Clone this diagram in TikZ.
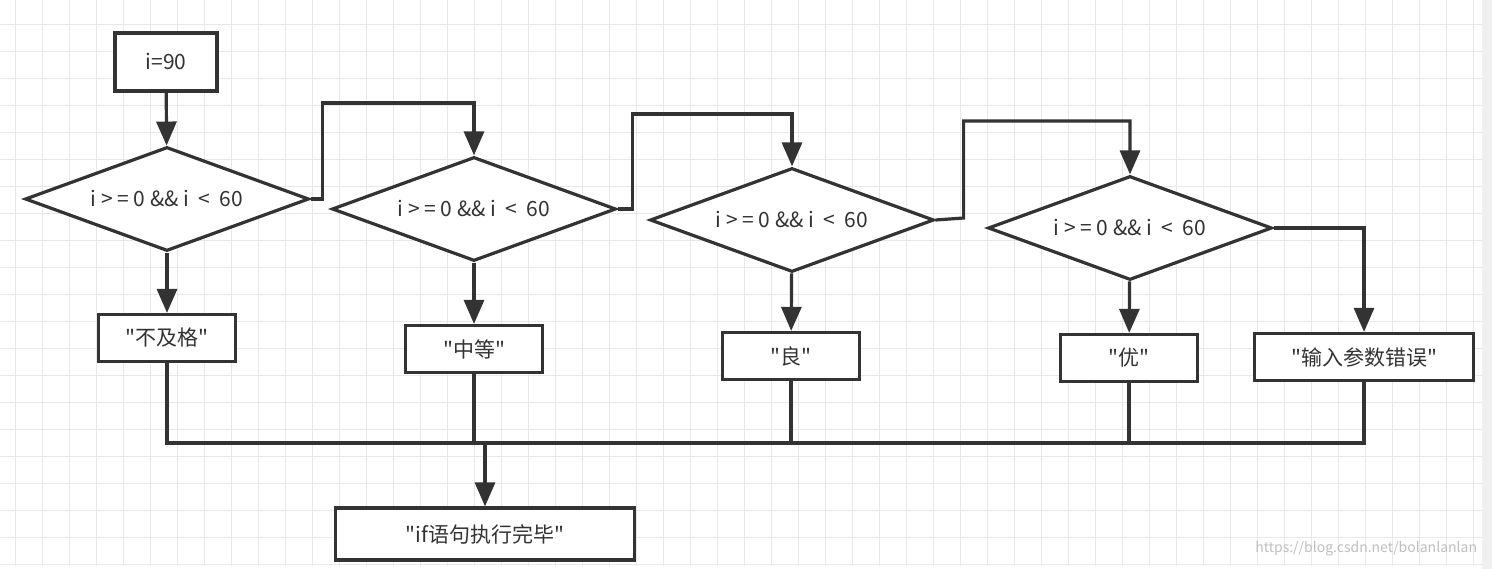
\documentclass[tikz,border=0pt]{standalone}
\usepackage{fontspec}
\newfontfamily\cjk{Noto Sans CJK SC}
\usetikzlibrary{arrows.meta,shapes.geometric}

\begin{document}
\begin{tikzpicture}[x=1pt,y=-1pt,
  line width=3.2pt, draw=black!80,
  every node/.style={font=\cjk\fontsize{21}{24}\selectfont, text=black!80},
  box/.style={draw=black!80, fill=white, rectangle, inner sep=0pt, minimum height=47pt, minimum width=137pt},
  cond/.style={draw=black!80, fill=white, diamond, aspect=2.73, inner sep=0pt, minimum width=284pt, minimum height=104pt},
  flow/.style={draw=black!80, -{Triangle[width=20pt,length=24pt]}},
  wire/.style={draw=black!80}]
\useasboundingbox (0,0) rectangle (1492,569);
% grid
\fill[white] (0,0) rectangle (1492,569);
\draw[line width=0.8pt, black!9, step=27pt, xshift=15pt, yshift=3pt] (-15,-3) grid (1480,569);
\fill[black!6] (1482,0) rectangle (1492,569);
% nodes
\node[box, minimum width=102pt, minimum height=58pt] (start) at (166,62) {i=90};
\node[cond] (c1) at (167,199) {i > = 0 \&\& i \ < \ 60};
\node[cond] (c2) at (474,209) {i > = 0 \&\& i \ < \ 60};
\node[cond] (c3) at (792,220) {i > = 0 \&\& i \ < \ 60};
\node[cond] (c4) at (1130,228) {i > = 0 \&\& i \ < \ 60};
\node[box] (fail) at (167,338) {"不及格"};
\node[box] (mid) at (474,349) {"中等"};
\node[box] (good) at (791,356) {"良"};
\node[box] (best) at (1129,358) {"优"};
\node[box, minimum width=219pt] (err) at (1364,357) {"输入参数错误"};
\node[box, minimum width=299pt, minimum height=52pt] (done) at (485,534) {"if语句执行完毕"};
\coordinate (join) at (485,443);
% connectors
\draw[flow] (start) -- (c1);
\draw[flow] (c1) -- (fail);
\draw[flow] (c2) -- (mid);
\draw[flow] (c3) -- (good);
\draw[flow] (c4) -- (best);
\draw[flow] (c1.east) -- ++(12,0) |- (474,103) -- (c2.north);
\draw[flow] (c2.east) -- ++(15,0) |- (792,114) -- (c3.north);
\draw[flow] (c3.east) -- ++(28,-2) |- (1130,121) -- (c4.north);
\draw[flow] (c4.east) -| (err.north);
\draw[wire] (fail.south) |- (err.south |- join) -- (err.south);
\draw[wire] (mid.south) -- (mid.south |- join);
\draw[wire] (good.south) -- (good.south |- join);
\draw[wire] (best.south) -- (best.south |- join);
\draw[flow] (join) -- (done);
% watermark
\node[font=\cjk\fontsize{14}{16}\selectfont, text=black!25, anchor=east] (mark) at (1482,549) {https://blog.csdn.net/bolanlanlan};
\end{tikzpicture}
\end{document}
